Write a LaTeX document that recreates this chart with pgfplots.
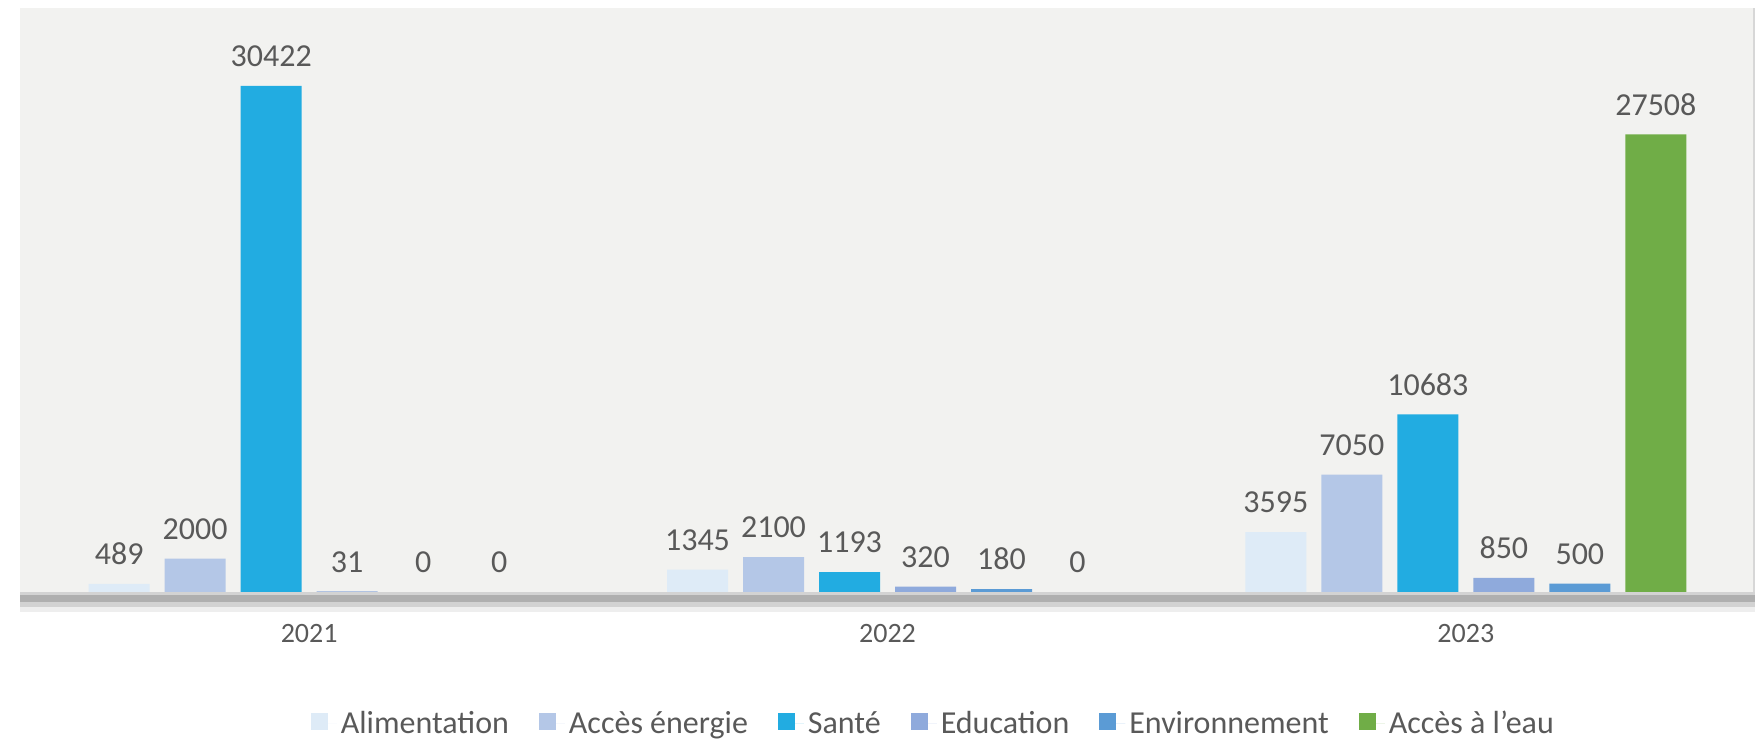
\documentclass[border=0pt]{standalone}
\usepackage{fontspec}
\setmainfont{Carlito}
\usepackage{pgfplots}
\pgfplotsset{compat=1.18}

\definecolor{bgc}{HTML}{F2F2F0}
\definecolor{txt}{HTML}{595959}
\definecolor{alim}{HTML}{DEEBF7}
\definecolor{energie}{HTML}{B4C7E7}
\definecolor{sante}{HTML}{22ACE1}
\definecolor{educ}{HTML}{8FAADC}
\definecolor{envir}{HTML}{5B9BD5}
\definecolor{eau}{HTML}{70AD47}

\begin{document}
\begin{tikzpicture}
\begin{axis}[
    name=ax, at={(0,0)}, anchor=south west,
    scale only axis, width=867.5pt, height=292pt,
    ybar=7.5pt, bar width=30.5pt,
    xmin=-0.5, xmax=2.5, ymin=0, ymax=35111,
    xtick={0,1,2}, xticklabels={2021,2022,2023},
    ytick=\empty, major tick length=0pt,
    axis line style={draw=none},
    axis background/.style={fill=bgc},
    xticklabel style={font=\fontsize{14}{16}\selectfont, text=txt, anchor=center, yshift=-21pt},
    nodes near coords,
    every node near coord/.append style={font=\fontsize{16}{18}\selectfont, text=txt, anchor=south, yshift=6pt},
    /pgf/number format/1000 sep={},
    /pgf/number format/assume math mode=true,
    every axis plot post/.append style={draw=none,
        legend image code/.code={\fill[##1] (0pt,-3pt) rectangle (8.5pt,5.5pt);
            \path (0pt,0pt) -- (13pt,0pt);}},
    legend columns=6,
    legend style={at={(axis description cs:0.527,-0.226)}, anchor=center,
        draw=none, fill=none, font=\fontsize{16}{19}\selectfont, text=txt,
        /tikz/every even column/.append style={column sep=13pt}},
]
\addplot[fill=alim] coordinates {(0,489) (1,1345) (2,3595)};
\addlegendentry{Alimentation}
\addplot[fill=energie] coordinates {(0,2000) (1,2100) (2,7050)};
\addlegendentry{Accès énergie}
\addplot[fill=sante] coordinates {(0,30422) (1,1193) (2,10683)};
\addlegendentry{Santé}
\addplot[fill=educ] coordinates {(0,31) (1,320) (2,850)};
\addlegendentry{Education}
\addplot[fill=envir] coordinates {(0,0) (1,180) (2,500)};
\addlegendentry{Environnement}
\addplot[fill=eau] coordinates {(0,0) (1,0) (2,27508)};
\addlegendentry{Accès à l'eau}
\end{axis}
% bottom shadow of the plot area
\fill[color={rgb,255:red,211;green,211;blue,211}] (0,0) rectangle (867.5pt,-1.5pt);
\fill[color={rgb,255:red,175;green,175;blue,175}] (0,-1.5pt) rectangle (867.5pt,-5pt);
\fill[color={rgb,255:red,210;green,210;blue,210}] (0,-5pt) rectangle (867.5pt,-7.5pt);
\fill[color={rgb,255:red,238;green,238;blue,238}] (0,-7.5pt) rectangle (867.5pt,-10pt);
\fill[color={rgb,255:red,215;green,215;blue,215}] (866.5pt,0) rectangle (867.5pt,292pt);
\pgfresetboundingbox
\path[use as bounding box] (-10pt,-74pt) rectangle (870pt,296pt);
\end{tikzpicture}
\end{document}
